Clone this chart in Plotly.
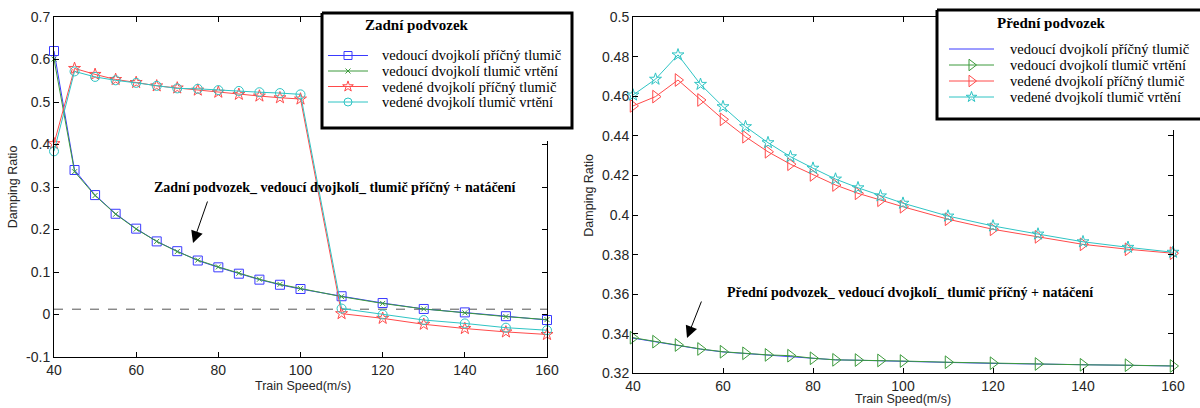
import plotly.graph_objects as go

W, H = 1200, 408

# ---------------- data ----------------
speed = [40, 45, 50, 55, 60, 65, 70, 75, 80, 85, 90, 95, 100, 110, 120, 130, 140, 150, 160]

# Zadní podvozek (left)
z_vedouci_pricny = [0.620, 0.340, 0.281, 0.237, 0.202, 0.172, 0.149, 0.127, 0.111, 0.096, 0.082, 0.070, 0.060,
                    0.043, 0.027, 0.013, 0.005, -0.004, -0.013]
z_vedouci_vrteni = [0.601, 0.336, 0.280, 0.236, 0.201, 0.172, 0.148, 0.128, 0.112, 0.097, 0.083, 0.071, 0.061,
                    0.042, 0.026, 0.013, 0.004, -0.005, -0.012]
z_vedene_pricny = [0.402, 0.579, 0.565, 0.553, 0.546, 0.538, 0.533, 0.528, 0.523, 0.518, 0.514, 0.510, 0.507,
                   0.002, -0.009, -0.023, -0.033, -0.041, -0.047]
z_vedene_vrteni = [0.384, 0.572, 0.559, 0.551, 0.545, 0.538, 0.532, 0.531, 0.528, 0.526, 0.523, 0.521, 0.518,
                   0.014, 0.000, -0.013, -0.021, -0.031, -0.037]
z_threshold = 0.0125

# Přední podvozek (right)
p_vedouci_pricny = [0.3378, 0.3359, 0.3341, 0.3322, 0.3308, 0.3300, 0.3292, 0.3287, 0.3276, 0.3268, 0.3266, 0.3264,
                    0.3261, 0.3255, 0.3250, 0.3246, 0.3242, 0.3240, 0.3237]
p_vedouci_vrteni = [0.3380, 0.3360, 0.3343, 0.3323, 0.3309, 0.3301, 0.3293, 0.3289, 0.3276, 0.3268, 0.3267, 0.3265,
                    0.3262, 0.3256, 0.3251, 0.3247, 0.3243, 0.3241, 0.3237]
p_vedene_pricny = [0.4552, 0.4599, 0.4683, 0.4582, 0.4484, 0.4396, 0.4320, 0.4257, 0.4203, 0.4152, 0.4110, 0.4075,
                   0.4042, 0.3979, 0.3928, 0.3890, 0.3852, 0.3827, 0.3807]
p_vedene_vrteni = [0.4607, 0.4687, 0.4810, 0.4661, 0.4548, 0.4447, 0.4366, 0.4295, 0.4237, 0.4182, 0.4138, 0.4097,
                   0.4060, 0.3995, 0.3945, 0.3904, 0.3865, 0.3837, 0.3812]

series_names = ["vedoucí dvojkolí příčný tlumič", "vedoucí dvojkolí tlumič vrtění",
                "vedené dvojkolí příčný tlumič", "vedené dvojkolí tlumič vrtění"]

left_xticks = [40, 60, 80, 100, 120, 140, 160]
left_yticks = [-0.1, 0.0, 0.1, 0.2, 0.3, 0.4, 0.5, 0.6, 0.7]
left_yticktext = ["-0.1", "0", "0.1", "0.2", "0.3", "0.4", "0.5", "0.6", "0.7"]
right_xticks = [40, 60, 80, 100, 120, 140, 160]
right_yticks = [0.32, 0.34, 0.36, 0.38, 0.40, 0.42, 0.44, 0.46, 0.48, 0.50]
right_yticktext = ["0.32", "0.34", "0.36", "0.38", "0.4", "0.42", "0.44", "0.46", "0.48", "0.5"]

left_title = "Zadní podvozek"
right_title = "Přední podvozek"
left_note = "Zadní podvozek_ vedoucí dvojkolí_ tlumič příčný + natáčení"
right_note = "Přední podvozek_ vedoucí dvojkolí_ tlumič příčný + natáčení"
x_title = "Train Speed(m/s)"
y_title = "Damping Ratio"

# ---------------- styles ----------------
BLUE = "#3a3aff"
GREEN = "#3c9a3c"
RED = "#ff4a4a"
CYAN = "#2ec4c4"
SANS = "Liberation Sans, Arial, sans-serif"
SERIF = "Liberation Serif, Times New Roman, Times, serif"
TICKFONT = dict(family=SANS, size=14, color="#262626")
TITLE_FONT = dict(family=SANS, size=12.5, color="#262626")


def px(x):
    return x / W


def py(y):
    return 1 - y / H


fig = go.Figure()

# ---- left subplot ----
left_styles = [
    (z_vedouci_pricny, BLUE, "square-open", 9),
    (z_vedouci_vrteni, GREEN, "x-thin-open", 5),
    (z_vedene_pricny, RED, "star-open", 9),
    (z_vedene_vrteni, CYAN, "circle-open", 9),
]
fig.add_trace(go.Scatter(x=[speed[0], speed[-1]], y=[z_threshold, z_threshold], mode="lines",
                         line=dict(color="#555555", width=1, dash="dash"), xaxis="x", yaxis="y",
                         showlegend=False, hoverinfo="skip"))
for (vals, col, sym, size), name in zip(left_styles, series_names):
    fig.add_trace(go.Scatter(x=speed, y=vals, name=name, mode="lines+markers",
                             line=dict(color=col, width=1),
                             marker=dict(symbol=sym, size=size, color=col, line=dict(color=col, width=1)),
                             xaxis="x", yaxis="y", cliponaxis=False, showlegend=False))

# ---- right subplot ----
right_styles = [
    (p_vedouci_pricny, BLUE, None, 0),
    (p_vedouci_vrteni, GREEN, "triangle-right-open", 11),
    (p_vedene_pricny, RED, "triangle-right-open", 11),
    (p_vedene_vrteni, CYAN, "star-open", 9),
]
for (vals, col, sym, size), name in zip(right_styles, series_names):
    if sym is None:
        fig.add_trace(go.Scatter(x=speed, y=vals, name=name, mode="lines",
                                 line=dict(color=col, width=1),
                                 xaxis="x2", yaxis="y2", cliponaxis=False, showlegend=False))
    else:
        fig.add_trace(go.Scatter(x=speed, y=vals, name=name, mode="lines+markers",
                                 line=dict(color=col, width=1),
                                 marker=dict(symbol=sym, size=size, color=col, line=dict(color=col, width=1)),
                                 xaxis="x2", yaxis="y2", cliponaxis=False, showlegend=False))


# ---- manual legend boxes on an overlay pixel axis ----
def legend_box(x0, x1, y0, y1, ext):
    fig.add_trace(go.Scatter(x=[x0, x1, x1, x0, x0], y=[y0, y0, ext, ext, y0], fill="toself",
                             fillcolor="white", mode="lines", line=dict(width=0, color="white"),
                             xaxis="x3", yaxis="y3", showlegend=False, hoverinfo="skip"))
    fig.add_trace(go.Scatter(x=[x0, x1, x1, x0, x0], y=[y0, y0, y1, y1, y0], fill="toself",
                             fillcolor="white", mode="lines", line=dict(width=3, color="black"),
                             xaxis="x3", yaxis="y3", showlegend=False, hoverinfo="skip"))


def legend_entry(x0, x1, y, col, sym, size):
    fig.add_trace(go.Scatter(x=[x0, x1], y=[y, y], mode="lines", line=dict(color=col, width=1),
                             xaxis="x3", yaxis="y3", showlegend=False, hoverinfo="skip"))
    if sym:
        fig.add_trace(go.Scatter(x=[(x0 + x1) / 2], y=[y], mode="markers",
                                 marker=dict(symbol=sym, size=size, color=col, line=dict(color=col, width=1)),
                                 xaxis="x3", yaxis="y3", showlegend=False, hoverinfo="skip"))


annotations = []
LEG_FONT = dict(family=SERIF, size=14.5, color="black")

# left legend
legend_box(322, 572, 13, 128, 141)
left_rows = [55.5, 71, 86.5, 102]
for (vals, col, sym, size), name, yy in zip(left_styles, series_names, left_rows):
    legend_entry(328, 368, yy, col, sym, size - 1 if size > 6 else size)
    annotations.append(dict(x=px(380), y=py(yy), xref="paper", yref="paper", text=name, showarrow=False,
                            xanchor="left", yanchor="middle", font=LEG_FONT))
annotations.append(dict(x=px(363), y=py(25), xref="paper", yref="paper", text="<b>%s</b>" % left_title,
                        showarrow=False, xanchor="left", yanchor="middle",
                        font=dict(family=SERIF, size=15, color="black")))

# right legend
legend_box(937, 1210, 10, 119, 130)
right_rows = [49, 65, 81, 97]
for (vals, col, sym, size), name, yy in zip(right_styles, series_names, right_rows):
    legend_entry(949, 994, yy, col, sym, size - 1 if size else 0)
    annotations.append(dict(x=px(1008), y=py(yy), xref="paper", yref="paper", text=name, showarrow=False,
                            xanchor="left", yanchor="middle", font=LEG_FONT))
annotations.append(dict(x=px(995), y=py(23), xref="paper", yref="paper", text="<b>%s</b>" % right_title,
                        showarrow=False, xanchor="left", yanchor="middle",
                        font=dict(family=SERIF, size=15, color="black")))

# notes with arrows
annotations.append(dict(x=px(335), y=py(188), xref="paper", yref="paper", text="<b>%s</b>" % left_note,
                        showarrow=False, xanchor="center", yanchor="middle",
                        font=dict(family=SERIF, size=14, color="black")))
annotations.append(dict(x=px(193), y=py(243), xref="paper", yref="paper", text="", showarrow=True,
                        ax=15, ay=-43, arrowhead=2, arrowsize=2.4, arrowwidth=1, arrowcolor="black"))
annotations.append(dict(x=px(910), y=py(292), xref="paper", yref="paper", text="<b>%s</b>" % right_note,
                        showarrow=False, xanchor="center", yanchor="middle",
                        font=dict(family=SERIF, size=14, color="black")))
annotations.append(dict(x=px(687), y=py(338), xref="paper", yref="paper", text="", showarrow=True,
                        ax=15, ay=-38, arrowhead=2, arrowsize=2.4, arrowwidth=1, arrowcolor="black"))

# x axis titles
annotations.append(dict(x=px(303), y=py(386), xref="paper", yref="paper", text=x_title, showarrow=False,
                        xanchor="center", yanchor="middle", font=TITLE_FONT))
annotations.append(dict(x=px(903), y=py(399), xref="paper", yref="paper", text=x_title, showarrow=False,
                        xanchor="center", yanchor="middle", font=TITLE_FONT))

axis_common = dict(showline=True, linecolor="black", linewidth=1, mirror="ticks", ticks="inside",
                   ticklen=5, tickcolor="black", showgrid=False, zeroline=False, tickfont=TICKFONT,
                   fixedrange=True, automargin=False)

fig.update_layout(
    width=W, height=H, margin=dict(l=0, r=0, t=0, b=0, autoexpand=False),
    paper_bgcolor="white", plot_bgcolor="rgba(0,0,0,0)", showlegend=False,
    xaxis=dict(domain=[px(54), px(547)], range=[40, 160], tickmode="array", tickvals=left_xticks,
               anchor="y", **axis_common),
    yaxis=dict(domain=[py(357), py(17)], range=[-0.1, 0.7], tickmode="array", tickvals=left_yticks,
               ticktext=left_yticktext, anchor="x",
               title=dict(text=y_title, font=TITLE_FONT, standoff=5), **axis_common),
    xaxis2=dict(domain=[px(633), px(1173)], range=[40, 160], tickmode="array", tickvals=right_xticks,
                anchor="y2", **axis_common),
    yaxis2=dict(domain=[py(373.3), py(17.3)], range=[0.32, 0.5], tickmode="array", tickvals=right_yticks,
                ticktext=right_yticktext, anchor="x2",
                title=dict(text=y_title, font=TITLE_FONT, standoff=5), **axis_common),
    xaxis3=dict(domain=[0, 1], range=[0, W], visible=False, fixedrange=True, anchor="y3"),
    yaxis3=dict(domain=[0, 1], range=[H, 0], visible=False, fixedrange=True, anchor="x3"),
    annotations=annotations,
)

fig.write_html("out.html")
